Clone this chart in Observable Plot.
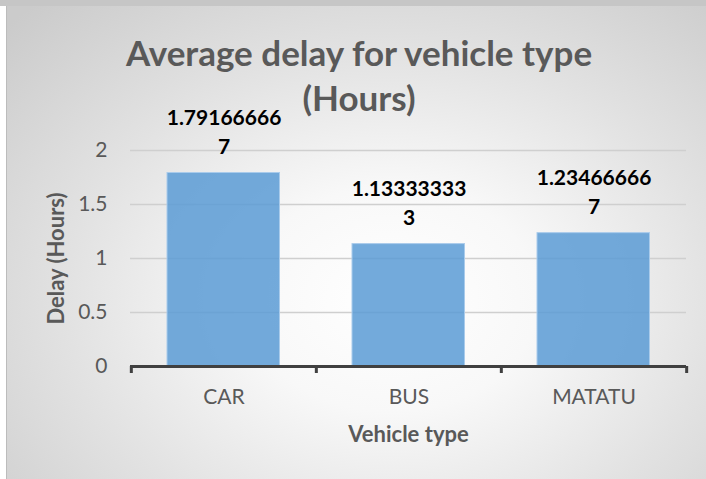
<!DOCTYPE html>
<html><head><meta charset="utf-8">
<script src="https://cdn.jsdelivr.net/npm/d3@7"></script>
<script src="https://cdn.jsdelivr.net/npm/@observablehq/plot@0.6"></script>
<style>
html,body{margin:0;padding:0;background:#fff;}
#wrap{position:relative;width:706px;height:479px;overflow:hidden;font-family:Lato,"Open Sans",sans-serif;}
#band{position:absolute;left:0;top:0;width:706px;height:6px;background:#c6c6c6;}
#panel{position:absolute;left:6px;top:6px;width:700px;height:473px;border-left:1px solid #bcbcbc;box-sizing:border-box;
 background:radial-gradient(ellipse 75% 85% at 55% 62%, #ffffff 0%, #f8f8f8 28%, #e2e2e2 62%, #cbcbcb 100%);}
#chart{position:absolute;left:0;top:0;}
#title{position:absolute;left:0;width:718px;top:30px;text-align:center;font-weight:700;font-size:35px;line-height:45px;color:#595959;}
</style></head>
<body>
<div id="wrap">
  <div id="band"></div>
  <div id="panel"></div>
  <div id="chart"></div>
  <div id="title">Average delay for vehicle type<br>(Hours)</div>
</div>
<script>
const categories = ["CAR", "BUS", "MATATU"];
const delays = [1.791666667, 1.133333333, 1.234666667];
const yTicks = [0, 0.5, 1, 1.5, 2];
const xTitle = "Vehicle type";
const yTitle = "Delay (Hours)";

function wrapLabel(v) {
  const s = String(v);
  return s.length > 10 ? s.slice(0, 10) + "\n" + s.slice(10) : s;
}
const data = categories.map((c, i) => ({type: c, delay: delays[i], label: wrapLabel(delays[i])}));

const W = 706, H = 479, mL = 130, mR = 20, mT = 150, mB = 113;
const bw = (W - mL - mR) / categories.length;
const font = "Lato, 'Open Sans', sans-serif";

const chart = Plot.plot({
  width: W, height: H,
  marginLeft: mL, marginRight: mR, marginTop: mT, marginBottom: mB,
  style: {background: "transparent", fontFamily: font, overflow: "visible"},
  x: {domain: categories, padding: 0},
  y: {domain: [0, 2]},
  marks: [
    Plot.gridY(yTicks, {stroke: "#cfcfcf", strokeOpacity: 1, strokeWidth: 1.5}),
    Plot.barY(data, {x: "type", y: "delay", fill: "#5b9bd5", fillOpacity: 0.85, stroke: "#a9cbeb", strokeWidth: 1, insetLeft: 36, insetRight: 36.5}),
    Plot.ruleY([0], {stroke: "#404040", strokeWidth: 3}),
    Plot.ruleX(categories, {x: d => d, y1: 0, y2: 0, insetBottom: -7, dx: -bw / 2, stroke: "#404040", strokeWidth: 3}),
    Plot.ruleX(categories.slice(-1), {x: d => d, y1: 0, y2: 0, insetBottom: -7, dx: bw / 2, stroke: "#404040", strokeWidth: 3}),
    Plot.text(data, {x: "type", y: "delay", text: "label", lineAnchor: "bottom", dy: -19.5, fontWeight: "bold", fontSize: 21, lineHeight: 1.38, fill: "#000"}),
    Plot.axisY(yTicks, {tickSize: 0, tickPadding: 23, fontSize: 21, color: "#595959", label: null, tickFormat: d => String(d)}),
    Plot.axisX({tickSize: 0, tickPadding: 23, fontSize: 21, color: "#595959", label: null}),
    Plot.text([yTitle], {frameAnchor: "left", dx: -74, rotate: -90, textAnchor: "middle", lineAnchor: "middle", fontWeight: "bold", fontSize: 22, fill: "#595959"}),
    Plot.text([xTitle], {frameAnchor: "bottom", dy: 68, textAnchor: "middle", lineAnchor: "middle", fontWeight: "bold", fontSize: 22, fill: "#595959"})
  ]
});
document.getElementById("chart").appendChild(chart);
</script>
</body></html>
